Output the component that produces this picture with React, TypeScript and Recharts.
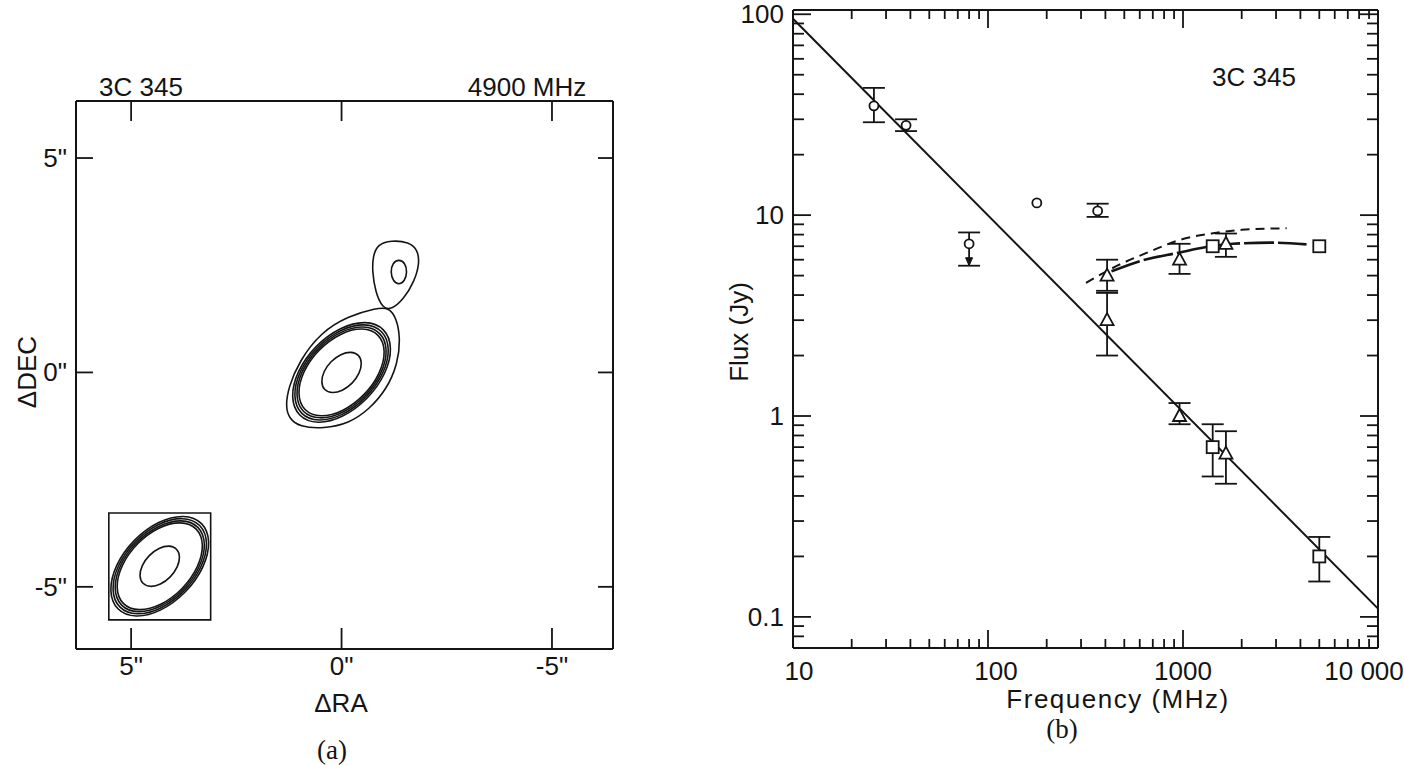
import React from 'react';
import { ComposedChart, Line, Scatter, XAxis, YAxis, ErrorBar, ReferenceArea } from 'recharts';

const INK = '#141414';
const SANS = '"Liberation Sans", Arial, sans-serif';
const SERIF = '"Liberation Serif", "Times New Roman", serif';
const FONT_SIZE = 26;

// ---------- panel (a): 4900 MHz map ----------
const RA_RANGE = [-6.45, 6.31]; // arcsec, east to the left
const DEC_RANGE = [-6.45, 6.33];
const OFFSET_TICKS = [5, 0, -5];
const BEAM_CENTER = [4.32, -4.52]; // ra, dec of the beam pattern
const BEAM_BOX_RA = [3.11, 5.53];
const BEAM_BOX_DEC = [-5.77, -3.28];

// contours as [ra, dec] points
const CORE_INNER = [
  [-0.416, 0.416], [-0.23, 0.49], [0.017, 0.433], [0.26, 0.26], [0.433, 0.017], [0.49, -0.23],
  [0.416, -0.416], [0.23, -0.49], [-0.017, -0.433], [-0.26, -0.26], [-0.433, -0.017], [-0.49, 0.23],
];
const CORE_RING_1 = [
  [-0.906, 0.906], [-0.51, 1.059], [0.022, 0.928], [0.549, 0.549], [0.928, 0.022], [1.059, -0.51],
  [0.906, -0.906], [0.51, -1.059], [-0.022, -0.928], [-0.549, -0.549], [-0.928, -0.022], [-1.059, 0.51],
];
const CORE_RING_2 = [
  [-0.948, 0.948], [-0.534, 1.108], [0.024, 0.972], [0.575, 0.575], [0.972, 0.024], [1.108, -0.534],
  [0.948, -0.948], [0.534, -1.108], [-0.024, -0.972], [-0.575, -0.575], [-0.972, -0.024], [-1.108, 0.534],
];
const CORE_RING_3 = [
  [-0.993, 0.993], [-0.559, 1.161], [0.025, 1.018], [0.602, 0.602], [1.018, 0.025], [1.161, -0.559],
  [0.993, -0.993], [0.559, -1.161], [-0.025, -1.018], [-0.602, -0.602], [-1.018, -0.025], [-1.161, 0.559],
];
const CORE_RING_4 = [
  [-1.039, 1.039], [-0.585, 1.215], [0.026, 1.066], [0.63, 0.63], [1.066, 0.026], [1.215, -0.585],
  [1.039, -1.039], [0.585, -1.215], [-0.026, -1.066], [-0.63, -0.63], [-1.066, -0.026], [-1.215, 0.585],
];
const CORE_OUTER = [
  [1.33, -0.79], [1.26, -0.34], [1.0, 0.27], [0.5, 0.93], [-0.17, 1.32], [-0.83, 1.5], [-1.12, 1.52],
  [-1.31, 1.26], [-1.4, 0.77], [-1.33, 0.2], [-1.08, -0.38], [-0.66, -0.86], [-0.17, -1.19],
  [0.42, -1.31], [1.0, -1.27], [1.25, -1.07],
];
const KNOT_OUTER = [
  [-0.746, 2.695], [-0.846, 2.984], [-1.182, 3.082], [-1.602, 3.042], [-1.811, 2.86], [-1.853, 2.53],
  [-1.727, 2.119], [-1.476, 1.707], [-1.182, 1.46], [-0.973, 1.501], [-0.804, 1.872], [-0.729, 2.366],
];
const KNOT_INNER = [
  [-1.362, 2.639], [-1.512, 2.559], [-1.562, 2.339], [-1.502, 2.129],
  [-1.362, 2.039], [-1.222, 2.129], [-1.162, 2.339], [-1.212, 2.559],
];

const MAP_CONTOURS = [CORE_OUTER, CORE_RING_4, CORE_RING_3, CORE_RING_2, CORE_RING_1, CORE_INNER, KNOT_OUTER, KNOT_INNER];
const BEAM_CONTOURS = [CORE_RING_4, CORE_RING_3, CORE_RING_2, CORE_RING_1, CORE_INNER];

// ---------- panel (b): spectrum ----------
const FREQ_RANGE = [10, 10000];
const FLUX_RANGE = [0.07, 105];
const FREQ_MAJOR = [10, 100, 1000, 10000];
const FREQ_MINOR = [20, 30, 40, 50, 60, 70, 80, 90, 200, 300, 400, 500, 600, 700, 800, 900, 2000, 3000, 4000, 5000, 6000, 7000, 8000, 9000];
const FLUX_MAJOR = [0.1, 1, 10, 100];
const FLUX_MINOR = [0.08, 0.09, 0.2, 0.3, 0.4, 0.5, 0.6, 0.7, 0.8, 0.9, 2, 3, 4, 5, 6, 7, 8, 9, 20, 30, 40, 50, 60, 70, 80, 90];
const FREQ_LABELS: Record<number, string> = { 10: '10', 100: '100', 1000: '1000', 10000: '10 000' };
const FLUX_LABELS: Record<number, string> = { 0.1: '0.1', 1: '1', 10: '10', 100: '100' };

// circles (low-frequency total flux)
const CIRCLE_FREQ = [26, 38, 80, 365];
const CIRCLE_FLUX = [35, 28, 7.2, 10.5];
const CIRCLE_LOW = [29, 26.2, 5.6, 9.8];
const CIRCLE_HIGH = [43, 30, 8.2, 11.4];
const LONE_CIRCLE_FREQ = [178];
const LONE_CIRCLE_FLUX = [11.5];
const ARROW_FREQ = [80];
const ARROW_FLUX = [5.6];

// triangles
const TRI_FREQ = [408, 408, 960, 960, 1660, 1660];
const TRI_FLUX = [5.0, 3.0, 6.0, 1.0, 7.2, 0.65];
const TRI_LOW = [4.2, 2.0, 5.1, 0.91, 6.2, 0.46];
const TRI_HIGH = [6.0, 4.1, 7.2, 1.16, 8.1, 0.84];

// squares
const SQ_FREQ = [1420, 5000];
const SQ_FLUX = [0.7, 0.2];
const SQ_LOW = [0.5, 0.15];
const SQ_HIGH = [0.91, 0.25];
const SQ_CORE_FREQ = [1420, 5000];
const SQ_CORE_FLUX = [7.0, 7.0];

// curves
const FIT_FREQ = [10, 10000];
const FIT_FLUX = [95, 0.11];
const DASH_FREQ = [318, 460, 680, 950, 1400, 2000, 3400];
const DASH_FLUX = [4.6, 5.6, 6.6, 7.5, 8.1, 8.45, 8.6];
const LONGDASH_FREQ = [430, 600, 950, 1330, 1800, 2800, 4300];
const LONGDASH_FLUX = [5.25, 5.9, 6.5, 6.95, 7.2, 7.3, 7.15];

const withErr = (f: number[], s: number[], lo: number[], hi: number[]) =>
  f.map((v, i) => ({ f: v, s: s[i], err: [s[i] - lo[i], hi[i] - s[i]] }));
const pts = (f: number[], s: number[]) => f.map((v, i) => ({ f: v, s: s[i] }));
// a contour placed at a given centre on the map
const ring = (r: number[][], at = [0, 0]) => r.map(([ra, dec]) => ({ ra: ra + at[0], dec: dec + at[1] }));

type Side = 'bottom' | 'top' | 'left' | 'right';
const tickMaker = (
  side: Side,
  major: number[],
  majorLen: number,
  minorLen: number,
  fmt?: (v: number) => string,
  gap = 16,
  shift: Record<number, number> = {},
) => (props: any) => {
  const { x, y, payload } = props;
  const v = payload.value;
  const isMajor = major.includes(v);
  const L = isMajor ? majorLen : minorLen;
  const dx = side === 'left' ? L : side === 'right' ? -L : 0;
  const dy = side === 'bottom' ? -L : side === 'top' ? L : 0;
  let label = null;
  if (fmt && isMajor) {
    const s = shift[v] ?? 0;
    const common = { fill: INK, fontFamily: SANS, fontSize: FONT_SIZE, dominantBaseline: 'central' as const };
    if (side === 'bottom')
      label = <text x={x + s} y={y + gap} textAnchor="middle" {...common}>{fmt(v)}</text>;
    if (side === 'left')
      label = <text x={x - gap} y={y + s} textAnchor="end" {...common}>{fmt(v)}</text>;
  }
  return (
    <g>
      <line x1={x} y1={y} x2={x + dx} y2={y + dy} stroke={INK} strokeWidth={1.8} />
      {label}
    </g>
  );
};

const axisLine = { stroke: INK, strokeWidth: 2 };
const arcsec = (v: number) => `${v}"`;

const MapPanel = () => (
  <ComposedChart width={700} height={765} margin={{ top: 91, right: 77, bottom: 86, left: 36 }}>
    <XAxis xAxisId="ra" dataKey="ra" type="number" domain={RA_RANGE} reversed allowDataOverflow
      ticks={OFFSET_TICKS} interval={0} tickSize={0} tickMargin={0} height={30} axisLine={axisLine} tickLine={false}
      tick={tickMaker('bottom', OFFSET_TICKS, 21, 21, arcsec, 17)} />
    <XAxis xAxisId="raTop" orientation="top" dataKey="ra" type="number" domain={RA_RANGE} reversed allowDataOverflow
      ticks={OFFSET_TICKS} interval={0} tickSize={0} tickMargin={0} height={10} axisLine={axisLine} tickLine={false}
      tick={tickMaker('top', OFFSET_TICKS, 20, 20)} />
    <YAxis yAxisId="dec" type="number" domain={DEC_RANGE} allowDataOverflow
      ticks={OFFSET_TICKS} interval={0} tickSize={0} tickMargin={0} width={40} axisLine={axisLine} tickLine={false}
      tick={tickMaker('left', OFFSET_TICKS, 17, 17, arcsec, 9)} />
    <YAxis yAxisId="decRight" orientation="right" type="number" domain={DEC_RANGE} allowDataOverflow
      ticks={OFFSET_TICKS} interval={0} tickSize={0} tickMargin={0} width={10} axisLine={axisLine} tickLine={false}
      tick={tickMaker('right', OFFSET_TICKS, 15, 15)} />
    <ReferenceArea xAxisId="ra" yAxisId="dec" x1={BEAM_BOX_RA[0]} x2={BEAM_BOX_RA[1]}
      y1={BEAM_BOX_DEC[0]} y2={BEAM_BOX_DEC[1]} fill="none" fillOpacity={0} stroke={INK} strokeWidth={1.6} />
    {MAP_CONTOURS.map((c, i) => (
      <Line key={`m${i}`} data={ring(c)} dataKey="dec" xAxisId="ra" yAxisId="dec" type="basisClosed"
        stroke={INK} strokeWidth={1.6} dot={false} activeDot={false} isAnimationActive={false} />
    ))}
    {BEAM_CONTOURS.map((c, i) => (
      <Line key={`b${i}`} data={ring(c, BEAM_CENTER)} dataKey="dec" xAxisId="ra" yAxisId="dec" type="basisClosed"
        stroke={INK} strokeWidth={1.6} dot={false} activeDot={false} isAnimationActive={false} />
    ))}
  </ComposedChart>
);

const CircleMark = (p: any) => <circle cx={p.cx} cy={p.cy} r={4.5} fill="#fff" stroke={INK} strokeWidth={1.8} />;
const TriangleMark = (p: any) => (
  <path d={`M${p.cx},${p.cy - 7} L${p.cx + 6.5},${p.cy + 5} L${p.cx - 6.5},${p.cy + 5} Z`}
    fill="#fff" stroke={INK} strokeWidth={1.8} />
);
const SquareMark = (p: any) => (
  <rect x={p.cx - 6} y={p.cy - 6} width={12} height={12} fill="#fff" stroke={INK} strokeWidth={1.8} />
);
const ArrowMark = (p: any) => (
  <path d={`M${p.cx - 3.5},${p.cy - 8} L${p.cx + 3.5},${p.cy - 8} L${p.cx},${p.cy} Z`} fill={INK} stroke={INK} strokeWidth={1} />
);

const FREQ_TICKS = [...FREQ_MAJOR, ...FREQ_MINOR];
const FLUX_TICKS = [...FLUX_MAJOR, ...FLUX_MINOR];
const errBar = <ErrorBar dataKey="err" direction="y" width={11} stroke={INK} strokeWidth={1.8} />;

const SpectrumPanel = () => (
  <ComposedChart width={704} height={765} margin={{ top: 5, right: 16, bottom: 87, left: 53 }}>
    <XAxis xAxisId="f" dataKey="f" type="number" scale="log" domain={FREQ_RANGE} allowDataOverflow
      ticks={FREQ_TICKS} interval={0} tickSize={0} tickMargin={0} height={30} axisLine={axisLine} tickLine={false}
      tick={tickMaker('bottom', FREQ_MAJOR, 18, 9, (v) => FREQ_LABELS[v], 23, { 10: 6, 100: 8, 10000: -14 })} />
    <XAxis xAxisId="fTop" orientation="top" dataKey="f" type="number" scale="log" domain={FREQ_RANGE} allowDataOverflow
      ticks={FREQ_TICKS} interval={0} tickSize={0} tickMargin={0} height={5} axisLine={axisLine} tickLine={false}
      tick={tickMaker('top', FREQ_MAJOR, 18, 9)} />
    <YAxis yAxisId="s" dataKey="s" type="number" scale="log" domain={FLUX_RANGE} allowDataOverflow
      ticks={FLUX_TICKS} interval={0} tickSize={0} tickMargin={0} width={40} axisLine={axisLine} tickLine={false}
      tick={tickMaker('left', FLUX_MAJOR, 18, 11, (v) => FLUX_LABELS[v], 9)} />
    <YAxis yAxisId="sRight" orientation="right" type="number" scale="log" domain={FLUX_RANGE} allowDataOverflow
      ticks={FLUX_TICKS} interval={0} tickSize={0} tickMargin={0} width={10} axisLine={axisLine} tickLine={false}
      tick={tickMaker('right', FLUX_MAJOR, 18, 11)} />

    <Line data={pts(FIT_FREQ, FIT_FLUX)} dataKey="s" xAxisId="f" yAxisId="s" type="linear"
      stroke={INK} strokeWidth={2} dot={false} activeDot={false} isAnimationActive={false} />
    <Line data={pts(DASH_FREQ, DASH_FLUX)} dataKey="s" xAxisId="f" yAxisId="s" type="monotone"
      stroke={INK} strokeWidth={2} strokeDasharray="9 6" dot={false} activeDot={false} isAnimationActive={false} />
    <Line data={pts(LONGDASH_FREQ, LONGDASH_FLUX)} dataKey="s" xAxisId="f" yAxisId="s" type="monotone"
      stroke={INK} strokeWidth={2.6} strokeDasharray="30 4" dot={false} activeDot={false} isAnimationActive={false} />

    <Scatter data={withErr(CIRCLE_FREQ, CIRCLE_FLUX, CIRCLE_LOW, CIRCLE_HIGH)} xAxisId="f" yAxisId="s"
      shape={CircleMark} isAnimationActive={false}>{errBar}</Scatter>
    <Scatter data={pts(LONE_CIRCLE_FREQ, LONE_CIRCLE_FLUX)} xAxisId="f" yAxisId="s" shape={CircleMark} isAnimationActive={false} />
    <Scatter data={pts(ARROW_FREQ, ARROW_FLUX)} xAxisId="f" yAxisId="s" shape={ArrowMark} isAnimationActive={false} />
    <Scatter data={withErr(TRI_FREQ, TRI_FLUX, TRI_LOW, TRI_HIGH)} xAxisId="f" yAxisId="s"
      shape={TriangleMark} isAnimationActive={false}>{errBar}</Scatter>
    <Scatter data={withErr(SQ_FREQ, SQ_FLUX, SQ_LOW, SQ_HIGH)} xAxisId="f" yAxisId="s"
      shape={SquareMark} isAnimationActive={false}>{errBar}</Scatter>
    <Scatter data={pts(SQ_CORE_FREQ, SQ_CORE_FLUX)} xAxisId="f" yAxisId="s" shape={SquareMark} isAnimationActive={false} />
  </ComposedChart>
);

const Txt = ({ x, y, children, size = FONT_SIZE, font = SANS, rotate = 0, spacing = 0 }: any) => (
  <div
    style={{
      position: 'absolute', left: x, top: y, transform: `translate(-50%, -50%) rotate(${rotate}deg)`,
      fontFamily: font, fontSize: size, color: INK, whiteSpace: 'nowrap', lineHeight: 1, letterSpacing: spacing,
    }}
  >
    {children}
  </div>
);

export default function App() {
  return (
    <div style={{ position: 'absolute', left: 0, top: 0, width: 1404, height: 765, background: '#fff', overflow: 'hidden' }}>
      <div style={{ position: 'absolute', left: 0, top: 0 }}>
        <MapPanel />
      </div>
      <div style={{ position: 'absolute', left: 700, top: 0 }}>
        <SpectrumPanel />
      </div>
      <Txt x={141} y={87}>3C 345</Txt>
      <Txt x={527} y={87}>4900 MHz</Txt>
      <Txt x={27} y={372} rotate={-90}>ΔDEC</Txt>
      <Txt x={341} y={703}>ΔRA</Txt>
      <Txt x={332} y={750} size={27} font={SERIF}>(a)</Txt>
      <Txt x={1254} y={77}>3C 345</Txt>
      <Txt x={739} y={332} rotate={-90}>Flux (Jy)</Txt>
      <Txt x={1118} y={699} spacing={1.5}>Frequency (MHz)</Txt>
      <Txt x={1062} y={729} size={27} font={SERIF}>(b)</Txt>
    </div>
  );
}
